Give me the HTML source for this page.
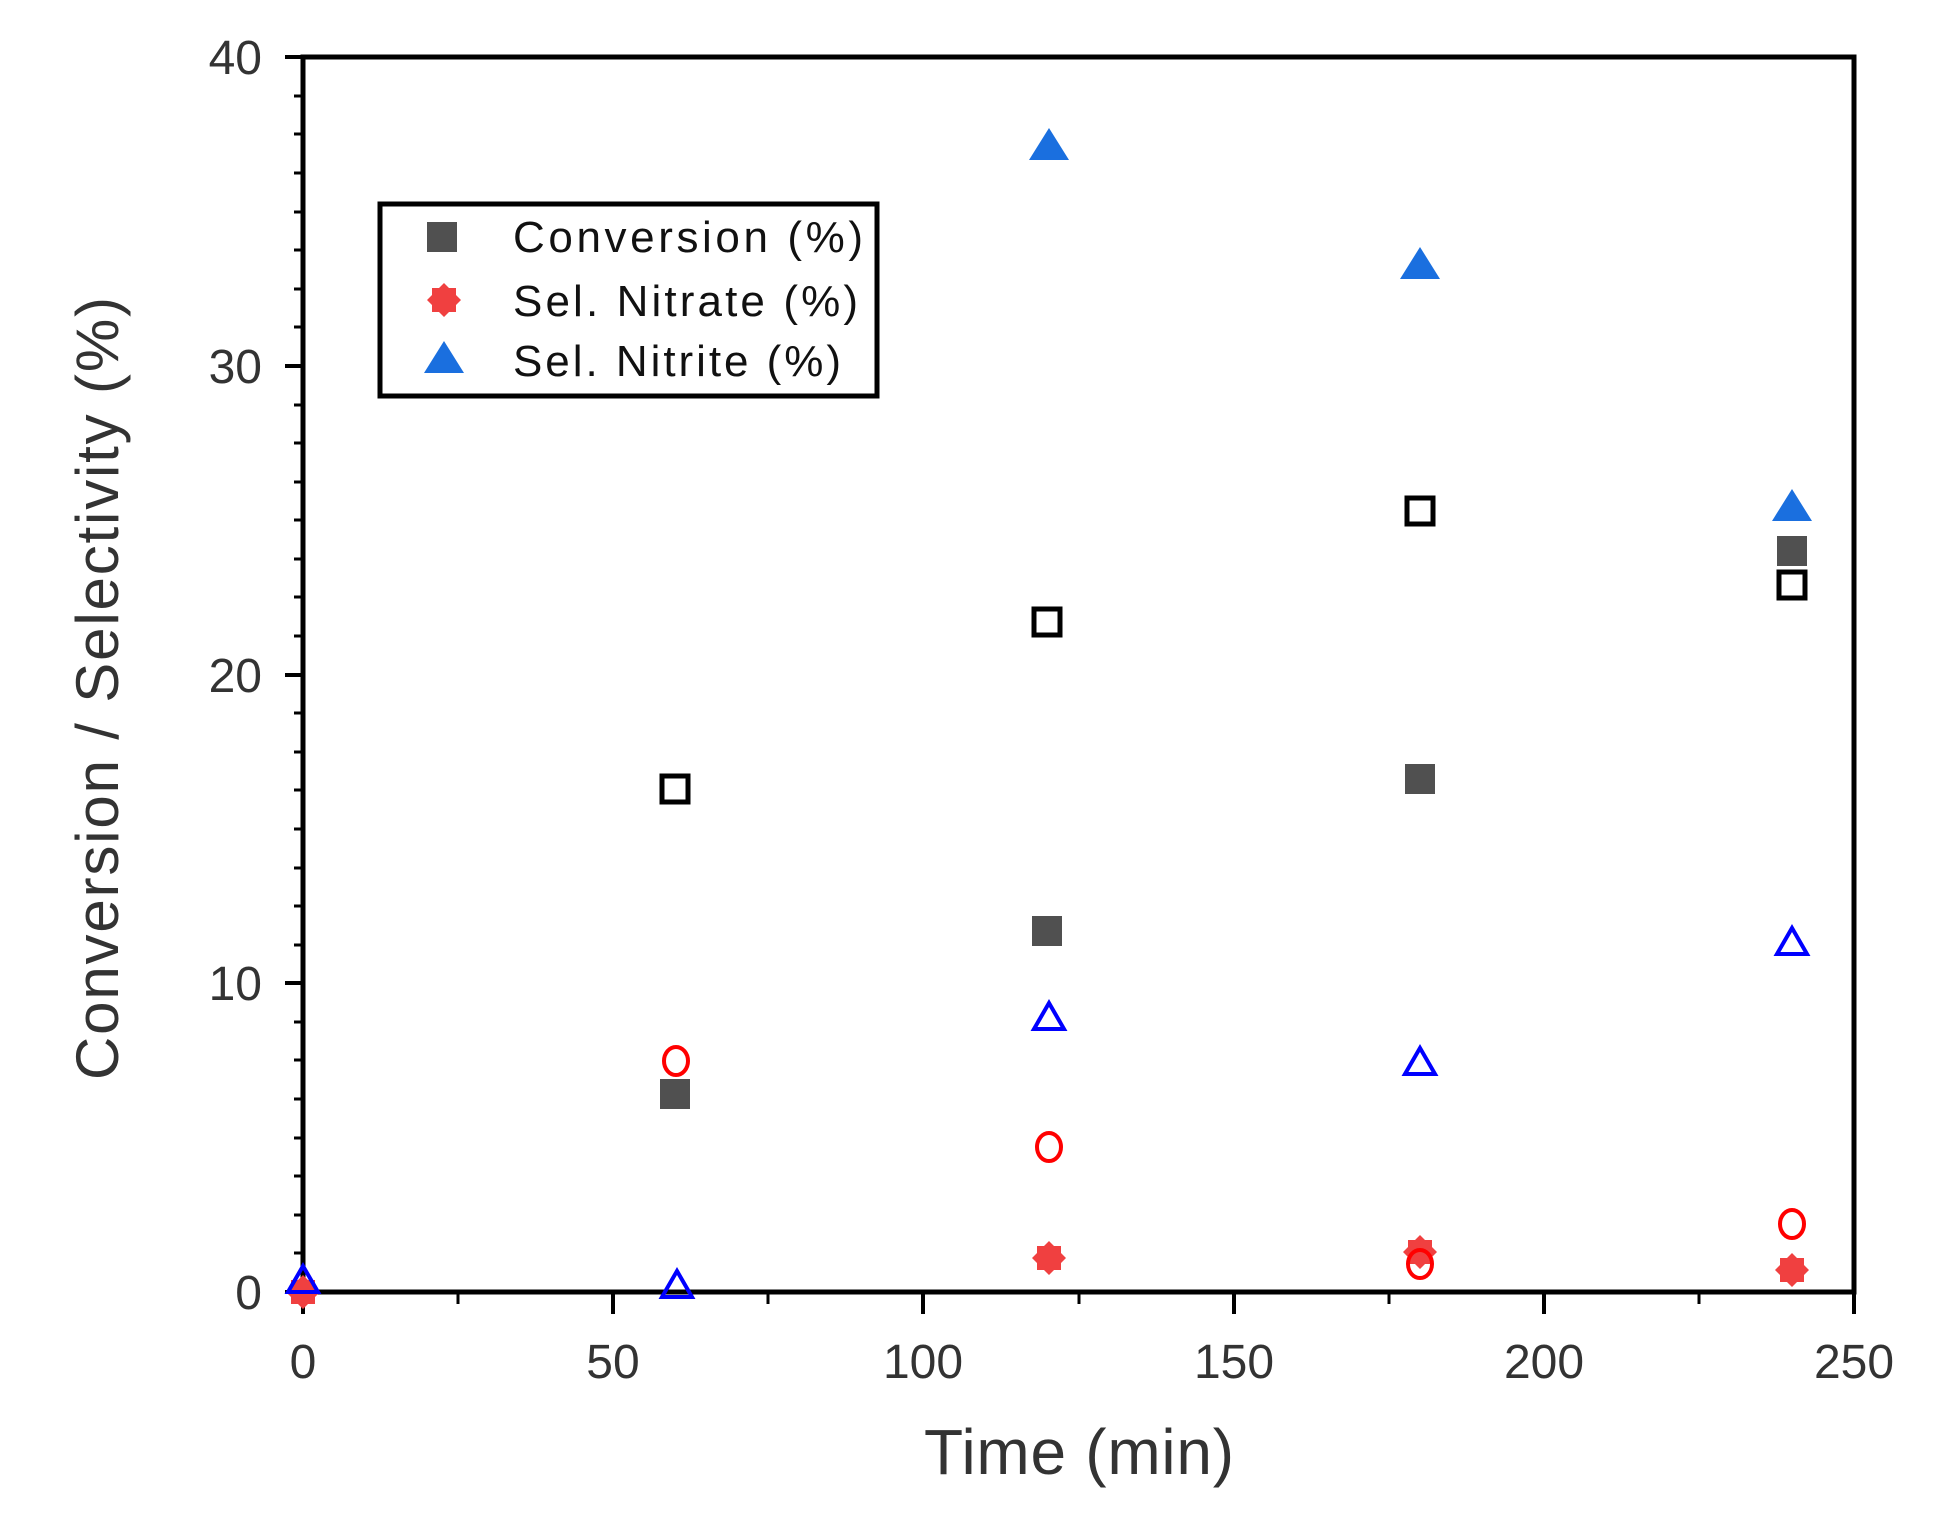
<!DOCTYPE html>
<html><head><meta charset="utf-8"><style>html,body{margin:0;padding:0;background:#fff}svg{display:block}</style></head>
<body>
<svg width="1938" height="1534" viewBox="0 0 1938 1534" xmlns="http://www.w3.org/2000/svg" font-family="Liberation Sans, sans-serif">
<defs>
<g id="fsq"><rect x="-15" y="-15" width="30" height="30" fill="#505050"/></g>
<g id="osq"><rect x="-13" y="-13" width="26" height="26" fill="none" stroke="#000" stroke-width="5"/></g>
<g id="fci"><polygon points="0,-17 5,-12 12,-12 12,-5 17,0 12,5 12,12 5,12 0,17 -5,12 -12,12 -12,5 -17,0 -12,-5 -12,-12 -5,-12" fill="#f04040"/></g>
<g id="oci"><ellipse cx="0" cy="0" rx="12" ry="14" fill="none" stroke="#ff0000" stroke-width="4"/></g>
<g id="ftr"><polygon points="0,-21 20,11 -20,11" fill="#1a6fdf"/></g>
<g id="otr"><polygon points="0,-16 15,10 -15,10" fill="none" stroke="#0000ff" stroke-width="4"/></g>
</defs>
<rect x="303" y="57" width="1551" height="1235" fill="none" stroke="#000" stroke-width="5"/>
<g stroke="#000" stroke-width="4">
<line x1="285" y1="57" x2="303" y2="57"/><line x1="285" y1="366" x2="303" y2="366"/><line x1="285" y1="675" x2="303" y2="675"/><line x1="285" y1="983" x2="303" y2="983"/><line x1="285" y1="1292" x2="303" y2="1292"/>
<g stroke-width="3">
<line x1="294" y1="96" x2="303" y2="96"/><line x1="294" y1="134" x2="303" y2="134"/><line x1="294" y1="173" x2="303" y2="173"/><line x1="294" y1="212" x2="303" y2="212"/><line x1="294" y1="250" x2="303" y2="250"/><line x1="294" y1="289" x2="303" y2="289"/><line x1="294" y1="327" x2="303" y2="327"/>
<line x1="294" y1="405" x2="303" y2="405"/><line x1="294" y1="443" x2="303" y2="443"/><line x1="294" y1="482" x2="303" y2="482"/><line x1="294" y1="520" x2="303" y2="520"/><line x1="294" y1="559" x2="303" y2="559"/><line x1="294" y1="597" x2="303" y2="597"/><line x1="294" y1="636" x2="303" y2="636"/>
<line x1="294" y1="713" x2="303" y2="713"/><line x1="294" y1="752" x2="303" y2="752"/><line x1="294" y1="790" x2="303" y2="790"/><line x1="294" y1="829" x2="303" y2="829"/><line x1="294" y1="868" x2="303" y2="868"/><line x1="294" y1="906" x2="303" y2="906"/><line x1="294" y1="945" x2="303" y2="945"/>
<line x1="294" y1="1022" x2="303" y2="1022"/><line x1="294" y1="1060" x2="303" y2="1060"/><line x1="294" y1="1099" x2="303" y2="1099"/><line x1="294" y1="1138" x2="303" y2="1138"/><line x1="294" y1="1176" x2="303" y2="1176"/><line x1="294" y1="1215" x2="303" y2="1215"/><line x1="294" y1="1253" x2="303" y2="1253"/>
</g>
<line x1="303" y1="1292" x2="303" y2="1314"/><line x1="613" y1="1292" x2="613" y2="1314"/><line x1="923" y1="1292" x2="923" y2="1314"/><line x1="1234" y1="1292" x2="1234" y2="1314"/><line x1="1544" y1="1292" x2="1544" y2="1314"/><line x1="1854" y1="1292" x2="1854" y2="1314"/>
<g stroke-width="3"><line x1="458" y1="1292" x2="458" y2="1304"/><line x1="768" y1="1292" x2="768" y2="1304"/><line x1="1079" y1="1292" x2="1079" y2="1304"/><line x1="1389" y1="1292" x2="1389" y2="1304"/><line x1="1699" y1="1292" x2="1699" y2="1304"/></g>
</g>
<g font-size="48" fill="#333" text-anchor="end">
<text x="262" y="74">40</text><text x="262" y="383">30</text><text x="262" y="692">20</text><text x="262" y="1000">10</text><text x="262" y="1309">0</text>
</g>
<g font-size="48" fill="#333" text-anchor="middle">
<text x="303" y="1378">0</text><text x="613" y="1378">50</text><text x="923" y="1378">100</text><text x="1234" y="1378">150</text><text x="1544" y="1378">200</text><text x="1854" y="1378">250</text>
</g>
<text x="924" y="1474" font-size="64" fill="#333" textLength="310">Time (min)</text>
<text transform="translate(118,1080) rotate(-90)" font-size="60" fill="#333" textLength="783">Conversion / Selectivity (%)</text>
<rect x="380" y="204" width="497" height="192" fill="#fff" stroke="#000" stroke-width="5"/>
<use href="#fsq" x="442" y="237"/><use href="#fci" x="444" y="300"/><use href="#ftr" x="444" y="362"/>
<g font-size="44" fill="#111">
<text x="513" y="252" textLength="350">Conversion (%)</text>
<text x="513" y="316" textLength="345">Sel. Nitrate (%)</text>
<text x="513" y="376" textLength="328">Sel. Nitrite (%)</text>
</g>
<use href="#fsq" x="675" y="1094"/><use href="#fsq" x="1047" y="931"/><use href="#fsq" x="1420" y="779"/><use href="#fsq" x="1792" y="551"/>
<use href="#osq" x="675" y="789"/><use href="#osq" x="1047" y="622"/><use href="#osq" x="1420" y="511"/><use href="#osq" x="1792" y="585"/>
<use href="#fci" x="303" y="1292"/><use href="#fci" x="1049" y="1258"/><use href="#fci" x="1420" y="1252"/><use href="#fci" x="1792" y="1270"/>
<use href="#oci" x="676" y="1061"/><use href="#oci" x="1049" y="1147"/><use href="#oci" x="1420" y="1264"/><use href="#oci" x="1792" y="1224"/>
<use href="#ftr" x="1049" y="149"/><use href="#ftr" x="1420" y="268"/><use href="#ftr" x="1792" y="510"/>
<use href="#otr" x="303" y="1282"/><use href="#otr" x="677" y="1287"/><use href="#otr" x="1049" y="1019"/><use href="#otr" x="1420" y="1064"/><use href="#otr" x="1792" y="944"/>
</svg>
</body></html>
